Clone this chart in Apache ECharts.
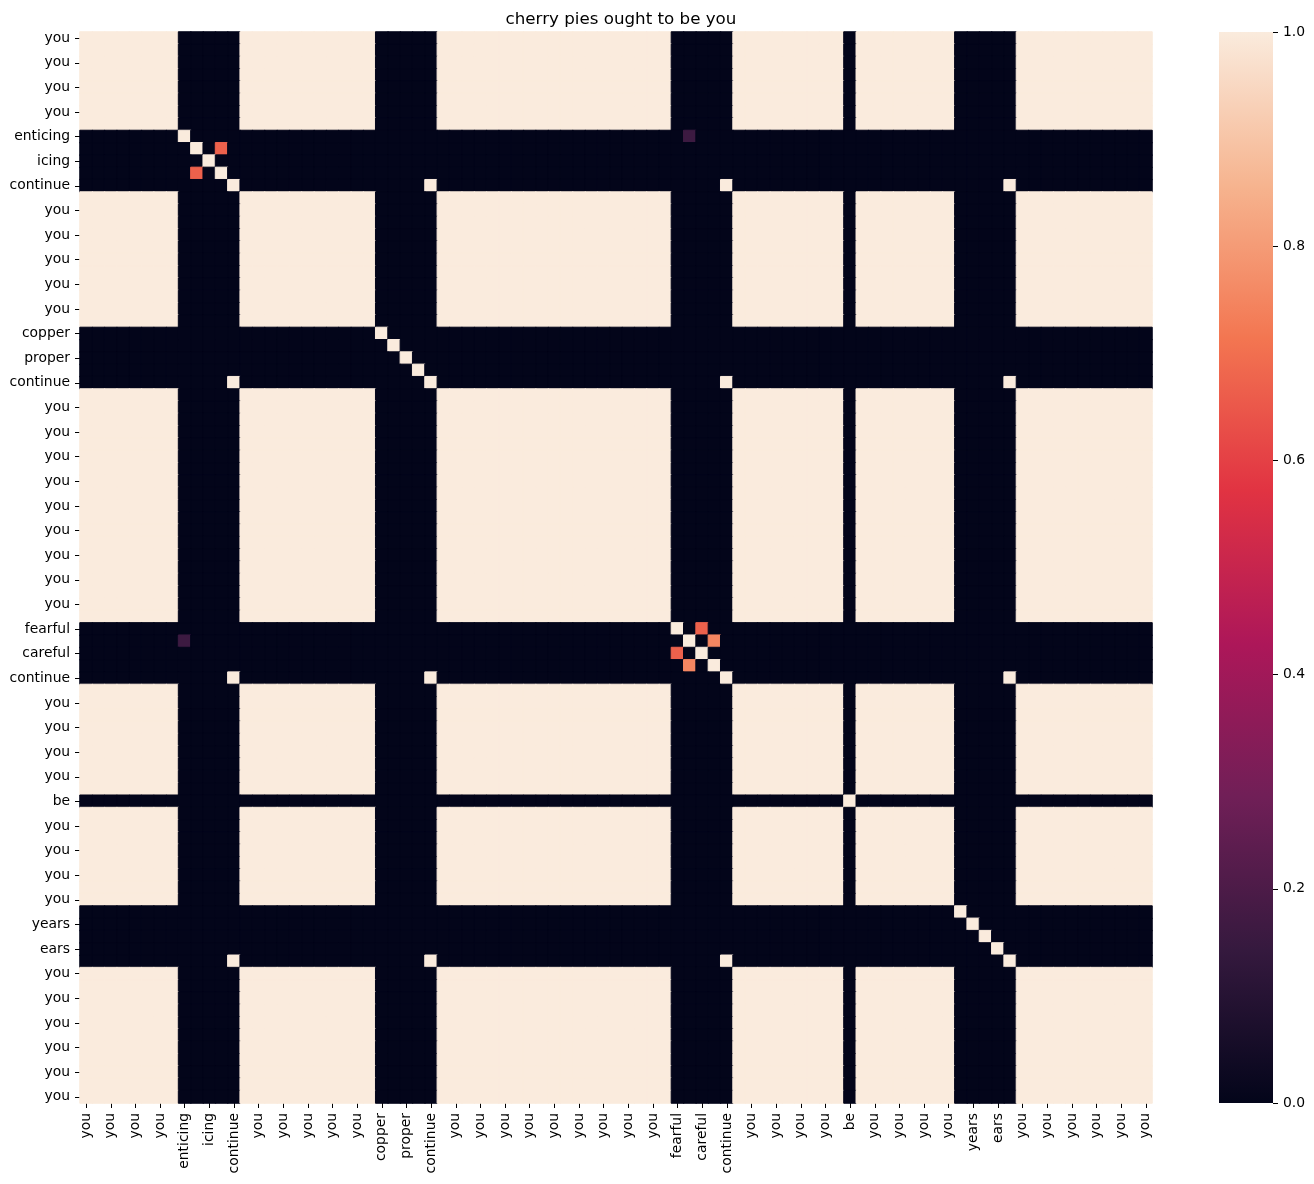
<!DOCTYPE html>
<html>
<head>
<meta charset="utf-8">
<script src="https://cdn.jsdelivr.net/npm/echarts@6/dist/echarts.min.js"></script>
<style>
html,body{margin:0;padding:0;background:#fff;}
#chart{width:1314px;height:1184px;}
</style>
</head>
<body>
<div id="chart"></div>
<script>
// Words along both axes (row i / column i); only every other one is labelled in the picture
const words = [
  'you','you','you','you','you','you','you','you',
  'enticing','sugar','icing','sweet','continue',
  'you','you','you','you','you','you','you','you','you','you','you',
  'copper','kettle','proper','shiny','continue',
  'you','you','you','you','you','you','you','you','you','you',
  'you','you','you','you','you','you','you','you','you',
  'fearful','cheerful','careful','tearful','continue',
  'you','you','you','you','you','you','you','you','you',
  'be',
  'you','you','you','you','you','you','you','you',
  'many','years','tears','ears','continue',
  'you','you','you','you','you','you','you','you','you','you','you'
];
// Partial similarities between different words: [i, j, value]
const partialPairs = [
  [9, 11, 0.67],
  [48, 50, 0.67],
  [49, 51, 0.75],
  [8, 49, 0.16]
];
// Colour bar ticks
const cbTicks = [0, 0.2, 0.4, 0.6, 0.8, 1.0];
// rocket colormap stops (evenly spaced 0..1)
const rocket = ['#03051A','#35193E','#701F57','#AD1759','#E13342','#F37651','#F6B48F','#FAEBDD'];

const n = words.length;
const pairMap = {};
partialPairs.forEach(p => { pairMap[p[0]+','+p[1]] = p[2]; pairMap[p[1]+','+p[0]] = p[2]; });
const data = [];
for (let i = 0; i < n; i++) {
  for (let j = 0; j < n; j++) {
    const v = (words[i] === words[j]) ? 1 : (pairMap[i+','+j] || 0);
    // border in the same colour as the fill hides antialiasing seams between cells
    data.push({value: [j, i, v], itemStyle: {borderColor: echarts.color.lerp(v, rocket), borderWidth: 1}});
  }
}
const idx = words.map((w, i) => String(i));

const font = 'DejaVu Sans';
const chart = echarts.init(document.getElementById('chart'), null, {renderer: 'canvas'});
const plotLeft = 80, plotTop = 32, plotW = 1072, plotH = 1071;
chart.setOption({
  animation: false,
  backgroundColor: '#fff',
  title: {
    text: 'cherry pies ought to be you',
    left: plotLeft + plotW / 2,
    textAlign: 'center',
    top: 6,
    textStyle: {fontFamily: font, fontSize: 16.7, fontWeight: 'normal', color: '#000'}
  },
  grid: [
    {left: plotLeft, top: plotTop, width: plotW, height: plotH},
    {left: 1219, top: plotTop, width: 54, height: plotH}
  ],
  xAxis: [
    {
      type: 'category', gridIndex: 0, data: idx,
      axisLine: {show: false},
      axisTick: {show: true, interval: 1, alignWithLabel: true, length: 5, lineStyle: {color: '#000', width: 1}},
      axisLabel: {interval: 1, rotate: 90, margin: 10, fontFamily: font, fontSize: 13.9, color: '#000',
        formatter: v => words[+v]},
      splitLine: {show: false}
    },
    {
      type: 'category', gridIndex: 1, data: ['cb'],
      axisLine: {show: false}, axisTick: {show: false}, axisLabel: {show: false}
    }
  ],
  yAxis: [
    {
      type: 'category', gridIndex: 0, data: idx, inverse: true,
      axisLine: {show: false},
      axisTick: {show: true, interval: 1, alignWithLabel: true, length: 5, lineStyle: {color: '#000', width: 1}},
      axisLabel: {interval: 1, margin: 10, fontFamily: font, fontSize: 13.9, color: '#000',
        formatter: v => words[+v]},
      splitLine: {show: false}
    },
    {
      type: 'value', gridIndex: 1, min: 0, max: 1, interval: 0.2, position: 'right',
      axisLine: {show: false},
      axisTick: {show: true, length: 5, lineStyle: {color: '#000', width: 1}},
      axisLabel: {margin: 10, fontFamily: font, fontSize: 13.9, color: '#000',
        formatter: v => v.toFixed(1)},
      splitLine: {show: false}
    }
  ],
  visualMap: {
    show: false, type: 'continuous', min: 0, max: 1, seriesIndex: 0, dimension: 2,
    inRange: {color: rocket}
  },
  series: [
    {
      type: 'heatmap', xAxisIndex: 0, yAxisIndex: 0, data: data,
      progressive: 0,
      emphasis: {disabled: true}
    },
    {
      type: 'bar', xAxisIndex: 1, yAxisIndex: 1, data: [cbTicks[cbTicks.length - 1]],
      barWidth: '100%', silent: true,
      itemStyle: {
        color: new echarts.graphic.LinearGradient(0, 1, 0, 0,
          rocket.map((c, k) => ({offset: k / (rocket.length - 1), color: c})))
      }
    }
  ]
});
</script>
</body>
</html>
